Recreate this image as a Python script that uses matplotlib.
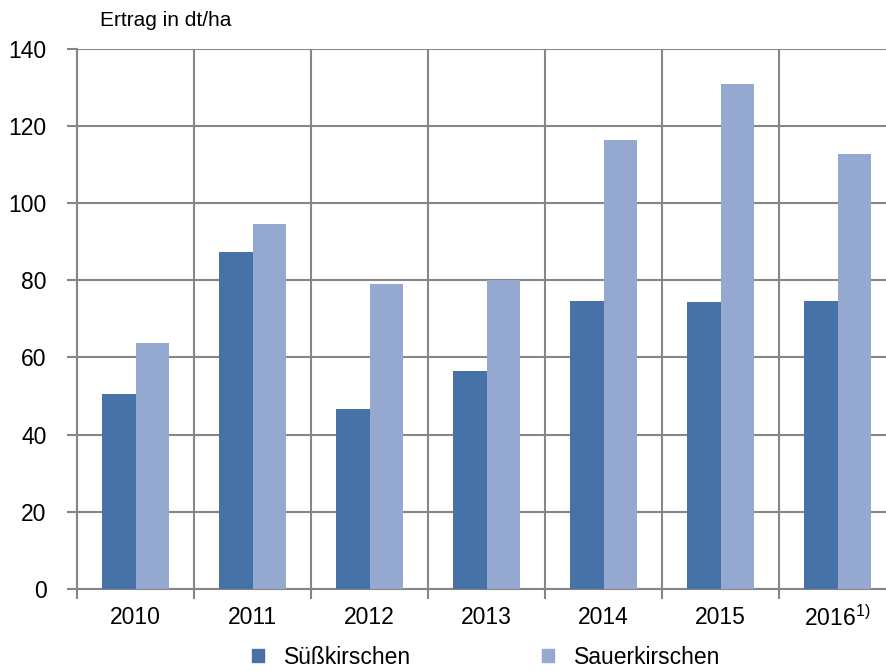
import matplotlib.pyplot as plt
from matplotlib.patches import Patch
import numpy as np

plt.rcParams['font.family'] = ['Liberation Sans', 'DejaVu Sans']
plt.rcParams['mathtext.fontset'] = 'custom'
plt.rcParams['mathtext.rm'] = 'Liberation Sans'

# data
years = ["2010", "2011", "2012", "2013", "2014", "2015", "2016$^{\\mathrm{1)}}$"]
suesskirschen = [50.6, 87.4, 46.7, 56.5, 74.7, 74.4, 74.7]
sauerkirschen = [63.8, 94.6, 79.1, 80.1, 116.4, 130.9, 112.8]
y_ticks = [0, 20, 40, 60, 80, 100, 120, 140]

dark = "#4672A8"
light = "#95A9D0"
grid = "#868686"
fs = 16.5

fig = plt.figure(figsize=(8.86, 6.71), dpi=100)
ax = fig.add_axes([77 / 886, 82 / 671, 819 / 886, 540.5 / 671])

x = np.arange(len(years))
w = 0.286
ax.bar(x - w / 2, suesskirschen, w, color=dark, zorder=3)
ax.bar(x + w / 2, sauerkirschen, w, color=light, zorder=3)

ax.set_xlim(-0.5, len(years) - 0.5)
ax.set_ylim(0, 140)
ax.set_yticks(y_ticks)
ax.set_yticklabels([str(v) for v in y_ticks], fontsize=fs)
ax.set_xticks(x)
ax.set_xticklabels(years, fontsize=fs)

# category separators and horizontal grid
ax.set_xticks(np.arange(len(years) + 1) - 0.5, minor=True)
ax.grid(True, axis="y", which="major", color=grid, lw=1.5, zorder=0)
ax.grid(True, axis="x", which="minor", color=grid, lw=1.5, zorder=0)
ax.tick_params(axis="x", which="major", length=0, pad=12)
ax.tick_params(axis="x", which="minor", length=7, width=1.5, color=grid)
ax.tick_params(axis="y", length=7, width=1.5, color=grid, pad=15)
for s in ["top", "right"]:
    ax.spines[s].set_visible(False)
for s in ["left", "bottom"]:
    ax.spines[s].set_color(grid)
    ax.spines[s].set_linewidth(1.5)

fig.text(100 / 886, 1 - 20 / 671, "Ertrag in dt/ha", fontsize=15, va="center", ha="left")

handles = [Patch(color=dark, label="Süßkirschen"), Patch(color=light, label="Sauerkirschen")]
fig.legend(handles=handles, loc="center", bbox_to_anchor=(486 / 886, 14 / 671), ncol=2,
           frameon=False, fontsize=fs, handlelength=0.52, handleheight=0.52,
           handletextpad=0.87, columnspacing=5.7)

fig.savefig("out.png", dpi=100)
